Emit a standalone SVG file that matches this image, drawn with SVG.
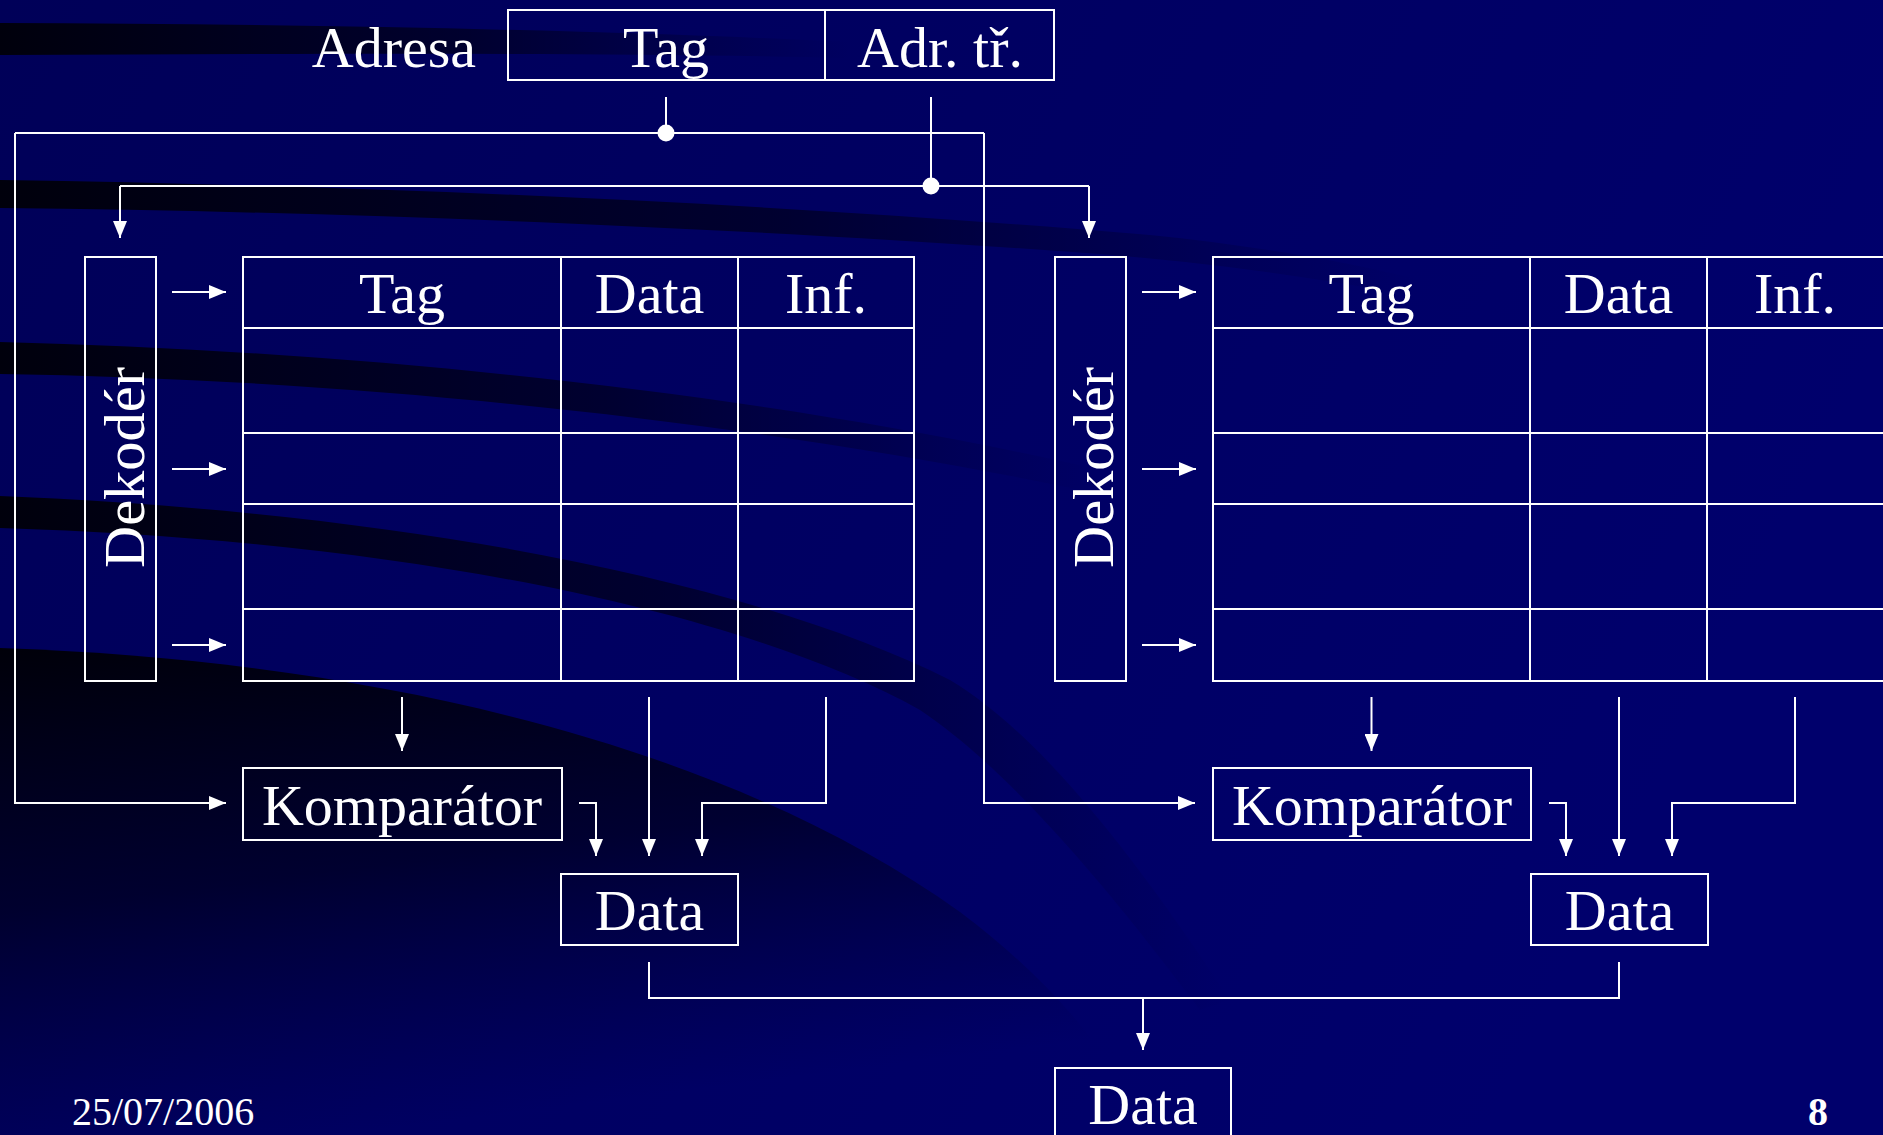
<svg xmlns="http://www.w3.org/2000/svg" width="1883" height="1135" viewBox="0 0 1883 1135">
<defs>
<style>
.ln{fill:none;stroke:#ffffff;stroke-width:2}
.bx{fill:none;stroke:#ffffff;stroke-width:2}
.t{font-family:"Liberation Serif","Times New Roman",serif;font-size:58px;fill:#ffffff;text-anchor:middle}
.ft{font-family:"Liberation Serif","Times New Roman",serif;font-size:40px;fill:#ffffff}
</style>
<marker id="ah" viewBox="0 0 17 14" refX="17" refY="7" markerWidth="17" markerHeight="14" markerUnits="userSpaceOnUse" orient="auto">
<path d="M0,0 L17,7 L0,14 Z" fill="#ffffff"/>
</marker>
<linearGradient id="bg" x1="0" y1="0" x2="1" y2="0.3">
<stop offset="0" stop-color="#000058"/>
<stop offset="1" stop-color="#00006c"/>
</linearGradient>
<linearGradient id="fadeR" x1="0" y1="0" x2="1" y2="0">
<stop offset="0" stop-color="#000008" stop-opacity="0.95"/>
<stop offset="0.55" stop-color="#000010" stop-opacity="0.6"/>
<stop offset="1" stop-color="#000020" stop-opacity="0"/>
</linearGradient>
<linearGradient id="fadeD" x1="0" y1="0" x2="0.3" y2="1">
<stop offset="0" stop-color="#000005" stop-opacity="0.95"/>
<stop offset="0.5" stop-color="#000010" stop-opacity="0.6"/>
<stop offset="1" stop-color="#000030" stop-opacity="0"/>
</linearGradient>
</defs>
<g id="background">
<rect x="0" y="0" width="1883" height="1135" fill="url(#bg)"/>
<path d="M0,23 C300,24 600,30 850,42 L850,58 C600,52 300,54 0,55 Z" fill="url(#fadeR)"/>
<path d="M0,180 C400,186 800,205 1150,235 C1250,245 1350,262 1420,280 L1410,295 C1300,275 1200,262 1100,254 C800,232 400,212 0,208 Z" fill="url(#fadeR)"/>
<path d="M0,342 C400,352 800,400 1100,470 L1090,492 C800,430 400,380 0,374 Z" fill="url(#fadeR)"/>
<path d="M0,496 C400,512 750,580 950,680 C1050,740 1150,880 1230,1000 L1200,1010 C1110,890 1010,770 920,710 C740,610 400,540 0,528 Z" fill="url(#fadeR)"/>
<path d="M0,648 C360,660 720,740 960,912 C1050,980 1110,1050 1150,1135 L0,1135 Z" fill="url(#fadeD)"/>
</g>
<g id="address">
<text class="t" x="394" y="67">Adresa</text>
<rect class="bx" x="508" y="10" width="546" height="70"/>
<line class="ln" x1="825" y1="10" x2="825" y2="80"/>
<text class="t" x="666" y="67">Tag</text>
<text class="t" x="940" y="67">Adr. tř.</text>
</g>
<g id="decoder-left">
<rect class="bx" x="85" y="257" width="71" height="424"/>
<text class="t" font-size="63" textLength="201" lengthAdjust="spacingAndGlyphs" transform="translate(143.5,467.5) rotate(-90)" x="0" y="0">Dekodér</text>
</g>
<g id="table-left">
<rect class="bx" x="243" y="257" width="671" height="424"/>
<path class="ln" d="M243,328 H914 M243,433 H914 M243,504 H914 M243,609 H914 M561,257 V681 M738,257 V681"/>
<text class="t" x="402" y="313">Tag</text>
<text class="t" x="649.5" y="313">Data</text>
<text class="t" x="826" y="313">Inf.</text>
</g>
<g id="comparator-left">
<rect class="bx" x="243" y="768" width="319" height="72"/>
<text class="t" x="402" y="825">Komparátor</text>
</g>
<g id="data-left">
<rect class="bx" x="561" y="874" width="177" height="71"/>
<text class="t" x="649.5" y="930">Data</text>
</g>
<g id="decoder-right">
<rect class="bx" x="1055" y="257" width="71" height="424"/>
<text class="t" font-size="63" textLength="201" lengthAdjust="spacingAndGlyphs" transform="translate(1112.5,467.5) rotate(-90)" x="0" y="0">Dekodér</text>
</g>
<g id="table-right">
<rect class="bx" x="1213" y="257" width="673" height="424"/>
<path class="ln" d="M1213,328 H1886 M1213,433 H1886 M1213,504 H1886 M1213,609 H1886 M1530,257 V681 M1707,257 V681"/>
<text class="t" x="1371.5" y="313">Tag</text>
<text class="t" x="1618.5" y="313">Data</text>
<text class="t" x="1795" y="313">Inf.</text>
</g>
<g id="comparator-right">
<rect class="bx" x="1213" y="768" width="318" height="72"/>
<text class="t" x="1372" y="825">Komparátor</text>
</g>
<g id="data-right">
<rect class="bx" x="1531" y="874" width="177" height="71"/>
<text class="t" x="1619.5" y="930">Data</text>
</g>
<g id="data-out">
<rect class="bx" x="1055" y="1068" width="176" height="100"/>
<text class="t" x="1143" y="1124">Data</text>
</g>
<g id="connectors">
<path class="ln" d="M666,97 V133"/>
<path class="ln" d="M15,133 H984"/>
<path class="ln" d="M15,133 V803 H226" marker-end="url(#ah)"/>
<path class="ln" d="M984,133 V803 H1195" marker-end="url(#ah)"/>
<circle cx="666" cy="133" r="8.5" fill="#ffffff"/>
<path class="ln" d="M931,97 V186"/>
<path class="ln" d="M120,186 H1089"/>
<path class="ln" d="M120,186 V238" marker-end="url(#ah)"/>
<path class="ln" d="M1089,186 V238" marker-end="url(#ah)"/>
<circle cx="931" cy="186" r="8.5" fill="#ffffff"/>
<path class="ln" d="M172,292 H226" marker-end="url(#ah)"/>
<path class="ln" d="M172,469 H226" marker-end="url(#ah)"/>
<path class="ln" d="M172,645 H226" marker-end="url(#ah)"/>
<path class="ln" d="M1142,292 H1196" marker-end="url(#ah)"/>
<path class="ln" d="M1142,469 H1196" marker-end="url(#ah)"/>
<path class="ln" d="M1142,645 H1196" marker-end="url(#ah)"/>
<path class="ln" d="M402,697 V751" marker-end="url(#ah)"/>
<path class="ln" d="M579,803 H596 V856" marker-end="url(#ah)"/>
<path class="ln" d="M649,697 V856" marker-end="url(#ah)"/>
<path class="ln" d="M826,697 V803 H702 V856" marker-end="url(#ah)"/>
<path class="ln" d="M1371.5,697 V751" marker-end="url(#ah)"/>
<path class="ln" d="M1549,803 H1566 V856" marker-end="url(#ah)"/>
<path class="ln" d="M1619,697 V856" marker-end="url(#ah)"/>
<path class="ln" d="M1795,697 V803 H1672 V856" marker-end="url(#ah)"/>
<path class="ln" d="M649,962 V998 H1619 V962"/>
<path class="ln" d="M1143,998 V1050" marker-end="url(#ah)"/>
</g>
<g id="footer">
<text class="ft" x="72" y="1125">25/07/2006</text>
<text class="ft" x="1818" y="1125" font-weight="bold" text-anchor="middle">8</text>
</g>
</svg>
